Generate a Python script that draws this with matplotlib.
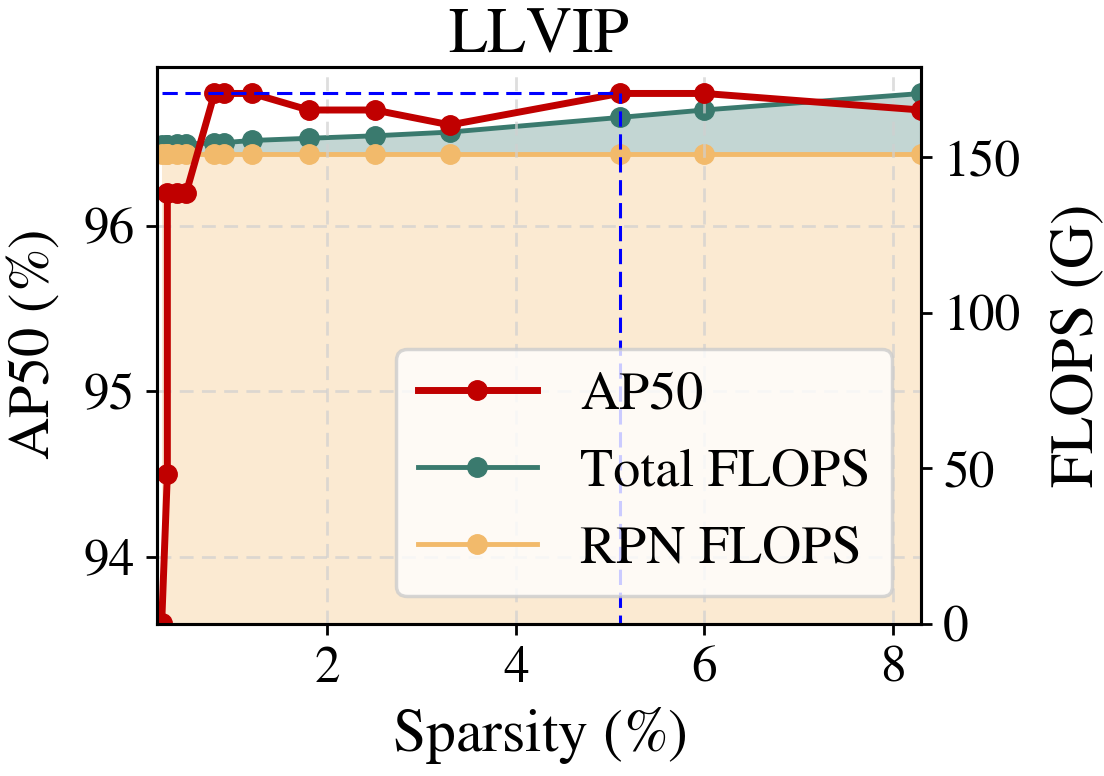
import matplotlib
matplotlib.use("Agg")
import matplotlib.pyplot as plt

plt.rcParams["font.family"] = "STIXGeneral"
plt.rcParams["mathtext.fontset"] = "custom"
plt.rcParams["mathtext.rm"] = "STIXGeneral:italic"
plt.rcParams["mathtext.it"] = "STIXGeneral:italic"

sparsity = [0.24, 0.3, 0.3, 0.4, 0.5, 0.8, 0.9, 1.2, 1.8, 2.5, 3.3, 5.1, 6.0, 8.3]
ap50 = [93.6, 94.5, 96.2, 96.2, 96.2, 96.8, 96.8, 96.8, 96.7, 96.7, 96.61, 96.8, 96.8, 96.7]
total_flops = [154.0, 154.0, 154.1, 154.2, 154.3, 154.6, 154.7, 155.4, 156.1, 156.9, 158.1, 162.8, 165.2, 170.5]
rpn_flops = [151.0] * len(sparsity)

best_x = 5.1
best_ap = 96.8

RED = "#C00000"
TEAL = "#3A7A6E"
ORANGE = "#F2BA6B"

fig, ax1 = plt.subplots(figsize=(11.04, 7.76), dpi=100)
fig.subplots_adjust(left=0.1422, right=0.8342, top=0.9137, bottom=0.1959)
ax2 = ax1.twinx()

# flops on the right axis
ax2.fill_between(sparsity, 0, rpn_flops, color=ORANGE, alpha=0.3, lw=0)
ax2.fill_between(sparsity, rpn_flops, total_flops, color=TEAL, alpha=0.3, lw=0)
l2, = ax2.plot(sparsity, total_flops, "-o", color=TEAL, lw=3.5, ms=14, label="Total FLOPS")
l3, = ax2.plot(sparsity, rpn_flops, "-o", color=ORANGE, lw=3.5, ms=14, label="RPN FLOPS")
ax2.set_ylim(0, max(total_flops) * 1.05)
ax2.set_ylabel("FLOPS (G)", fontsize=44, labelpad=22)

# AP50 on top
ax1.set_zorder(ax2.get_zorder() + 1)
ax1.patch.set_visible(False)
l1, = ax1.plot(sparsity, ap50, "-o", color=RED, lw=5, ms=14, label="AP50")
ax1.plot([sparsity[0], best_x], [best_ap, best_ap], "--", color="blue", lw=2.2, dashes=(5, 2.5))
ax1.plot([best_x, best_x], [93.0, best_ap], "--", color="blue", lw=2.2, dashes=(5, 2.5))
ax1.set_xlim(0.19, 8.3)
ax1.set_ylim(93.595, 96.96)
ax1.set_yticks([94, 95, 96])
ax1.set_xticks([2, 4, 6, 8])
ax1.set_xlabel(r"Sparsity ($\%$)", fontsize=43, labelpad=9)
ax1.set_ylabel(r"AP50 ($\%$)", fontsize=42, labelpad=16)
ax1.set_title("LLVIP", fontsize=46)
ax1.grid(True, ls="--", color="#d0d0d0", lw=2, alpha=0.7, dashes=(5, 3))

for ax in (ax1, ax2):
    ax.tick_params(labelsize=37, length=8, width=2, pad=8)
    for s in ax.spines.values():
        s.set_linewidth(2.2)

leg = ax1.legend(handles=[l1, l2, l3], fontsize=39, loc="lower right",
                 bbox_to_anchor=(0.998, 0.001), handlelength=2.2, fancybox=True,
                 framealpha=0.8, edgecolor="#cccccc")
leg.get_frame().set_linewidth(2.5)

plt.savefig("out.png", dpi=100)
